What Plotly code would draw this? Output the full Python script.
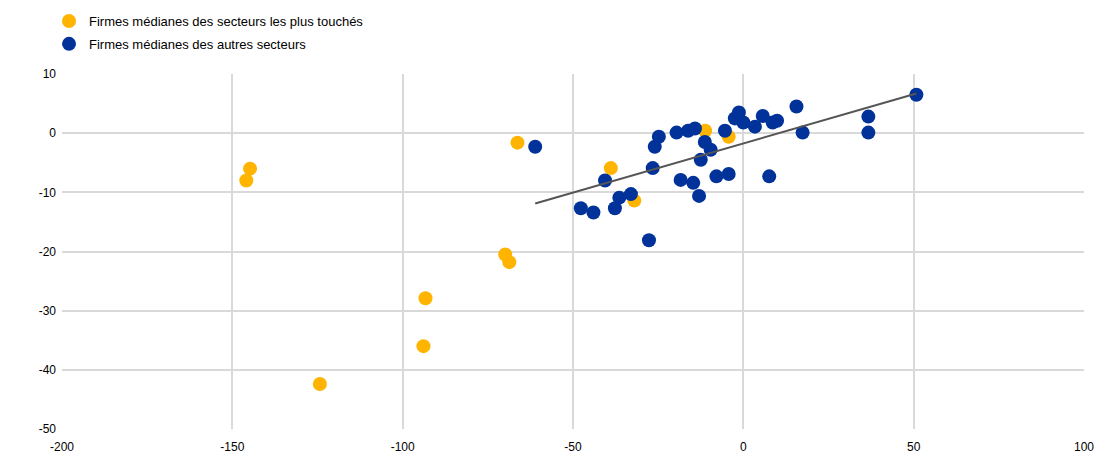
import numpy as np
import plotly.graph_objects as go

# Data
hit_x = [-145.9, -144.8, -66.3, -69.9, -68.7, -93.3, -93.9, -124.3, -38.9, -32.0, -11.2, -4.3]
hit_y = [-8.0, -6.0, -1.6, -20.5, -21.8, -27.9, -36.0, -42.4, -5.9, -11.4, 0.4, -0.6]

other_x = [-61.1, -47.7, -44.0, -40.6, -37.7, -36.4, -33.0, -27.7, -26.6, -26.0,
           -24.8, -19.6, -18.4, -16.2, -14.7, -14.2, -13.0, -12.5, -11.3, -9.6,
           -7.9, -5.4, -4.3, -2.5, -1.3, 0.0, 3.4, 5.7, 7.6, 8.6, 9.9, 15.6,
           17.4, 36.7, 36.7, 50.8]
other_y = [-2.3, -12.7, -13.4, -8.0, -12.7, -10.9, -10.3, -18.1, -5.9, -2.3,
           -0.6, 0.1, -7.9, 0.4, -8.4, 0.8, -10.6, -4.5, -1.5, -2.8,
           -7.3, 0.4, -6.9, 2.5, 3.5, 1.8, 1.1, 2.9, -7.3, 1.8, 2.1, 4.5,
           0.1, 2.8, 0.1, 6.5]

legend_labels = ["Firmes médianes des secteurs les plus touchés",
                 "Firmes médianes des autres secteurs"]
x_ticks = [-200, -150, -100, -50, 0, 50, 100]
y_ticks = [-50, -40, -30, -20, -10, 0, 10]

YELLOW = "#FFB400"
BLUE = "#003299"

# linear trend on the other-sector firms
ox = np.array(other_x)
oy = np.array(other_y)
slope, intercept = np.polyfit(ox, oy, 1)
tx = np.array([ox.min(), ox.max()])
ty = slope * tx + intercept

fig = go.Figure()
fig.add_trace(go.Scatter(
    x=hit_x, y=hit_y, mode="markers", name=legend_labels[0],
    legendgroup="a",
    marker=dict(color=YELLOW, size=14, line=dict(width=0)),
))
fig.add_trace(go.Scatter(
    x=other_x, y=other_y, mode="markers", name=legend_labels[1],
    legendgroup="b",
    marker=dict(color=BLUE, size=14, line=dict(width=0)),
))
fig.add_trace(go.Scatter(
    x=tx, y=ty, mode="lines", showlegend=False,
    line=dict(color="#555555", width=2),
))

fig.update_layout(
    width=1100, height=453,
    margin=dict(l=62, r=16, t=74, b=24, autoexpand=False),
    paper_bgcolor="white", plot_bgcolor="white",
    font=dict(family="Liberation Sans, Arial, sans-serif", size=12, color="#000000"),
    legend=dict(
        xref="paper", yref="paper",
        x=-0.0127, y=1.1915, xanchor="left", yanchor="top",
        font=dict(size=13, color="#000000"),
        tracegroupgap=3,
        bgcolor="rgba(0,0,0,0)",
    ),
    showlegend=True,
)
fig.update_xaxes(
    range=[-200, 100], tickvals=x_ticks, ticktext=[str(v) for v in x_ticks],
    showgrid=True, gridcolor="#D9D9D9", gridwidth=1.5,
    zeroline=False, showline=False, ticks="",
    tickfont=dict(size=12), ticklabelstandoff=9,
)
fig.update_yaxes(
    range=[-50, 10], tickvals=y_ticks, ticktext=[str(v) for v in y_ticks],
    showgrid=True, gridcolor="#D9D9D9", gridwidth=1.5,
    zeroline=False, showline=False, ticks="",
    tickfont=dict(size=12), ticklabelstandoff=5,
)

fig.write_html("out.html", config={"displayModeBar": False},
               post_script="document.body.style.margin='0';")
